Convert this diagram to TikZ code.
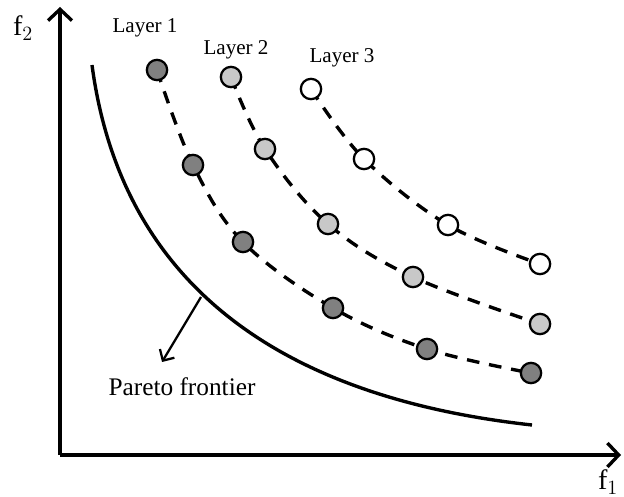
\documentclass[tikz,border=0pt]{standalone}
\usepackage{fontspec}
\setmainfont{Liberation Serif}
\usetikzlibrary{arrows.meta,positioning,backgrounds}
\definecolor{ptdark}{RGB}{128,128,128}
\definecolor{ptlight}{RGB}{200,200,200}
\tikzset{
  pt/.style={draw, circle, line width=1.6pt, minimum size=14.5pt, inner sep=0pt},
  pt1/.style={pt, fill=ptdark},
  pt2/.style={pt, fill=ptlight},
  pt3/.style={pt, fill=white},
  layerline/.style={line width=2.4pt, dash pattern=on 9pt off 7pt},
  axis/.style={line width=2.4pt, -{Straight Barb[length=8pt, width=17pt, line width=2.4pt]}},
  lbl/.style={font=\fontsize{15}{18}\selectfont}
}

\begin{document}
\begin{tikzpicture}[x=0.025cm, y=-0.025cm]
  \useasboundingbox (0,0) rectangle (624,497);

  % axes
  \coordinate (o) at (60,455);
  \coordinate (xend) at (621,455);
  \coordinate (yend) at (60,7);
  \draw[axis] (o) -- (xend);
  \draw[axis] (o) -- (yend);
  \node[font=\fontsize{20}{24}\selectfont] (f1) at (608,482) {f$_1$};
  \node[font=\fontsize{20}{24}\selectfont] (f2) at (23,28) {f$_2$};

  % pareto frontier
  \coordinate (pfs) at (92,65);
  \coordinate (pfe) at (532,425);
  \draw[line width=2.4pt] (pfs) .. controls (118,260) and (250,394) .. (pfe);
  \coordinate (pfa) at (201,297);
  \coordinate (pft) at (162,362);
  \draw[line width=1.6pt, -{Straight Barb[length=6pt, width=12pt, line width=1.6pt]}] (pfa) -- (pft);
  \node[font=\fontsize{18}{22}\selectfont] (pf) at (182,387) {Pareto frontier};

  % layer 1
  \node[pt1] (a1) at (157,70) {};
  \node[pt1] (a2) at (193,165) {};
  \node[pt1] (a3) at (243,242) {};
  \node[pt1] (a4) at (333,308) {};
  \node[pt1] (a5) at (427,349) {};
  \node[pt1] (a6) at (531,373) {};
  % layer 2
  \node[pt2] (b1) at (231,77) {};
  \node[pt2] (b2) at (265,149) {};
  \node[pt2] (b3) at (328,224) {};
  \node[pt2] (b4) at (413,277) {};
  \node[pt2] (b5) at (540,324) {};
  % layer 3
  \node[pt3] (c1) at (311,89) {};
  \node[pt3] (c2) at (364,159) {};
  \node[pt3] (c3) at (448,225) {};
  \node[pt3] (c4) at (540,264) {};

  \begin{scope}[on background layer]
  \draw[layerline] plot[smooth, tension=0.6] coordinates {(a1.center) (a2.center) (a3.center) (a4.center) (a5.center) (a6.center)};
  \draw[layerline] plot[smooth, tension=0.6] coordinates {(b1.center) (b2.center) (b3.center) (b4.center) (b5.center)};
  \draw[layerline] plot[smooth, tension=0.6] coordinates {(c1.center) (c2.center) (c3.center) (c4.center)};
  \end{scope}

  \node[lbl] (l1) at (145,28) {Layer 1};
  \node[lbl] (l2) at (236,50) {Layer 2};
  \node[lbl] (l3) at (342,58) {Layer 3};
\end{tikzpicture}
\end{document}
